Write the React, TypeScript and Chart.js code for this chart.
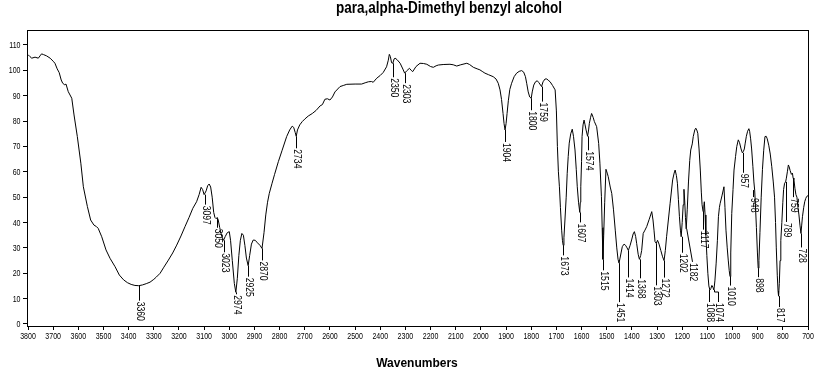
import React, { useEffect, useRef } from 'react';
import { Chart, registerables } from 'chart.js';

Chart.register(...registerables);

const TITLE = 'para,alpha-Dimethyl benzyl alcohol';
const X_TITLE = 'Wavenumbers';

const X_TICKS = [3800, 3700, 3600, 3500, 3400, 3300, 3200, 3100, 3000, 2900, 2800, 2700, 2600, 2500, 2400, 2300, 2200, 2100, 2000, 1900, 1800, 1700, 1600, 1500, 1400, 1300, 1200, 1100, 1000, 900, 800, 700];
const Y_TICKS = [0, 10, 20, 30, 40, 50, 60, 70, 80, 90, 100, 110];

const WAVENUMBERS = [
  3800, 3792, 3785, 3772, 3759, 3750, 3746, 3738, 3726, 3712, 3700, 3693, 3684, 3676, 3668, 3662, 3654, 3649, 3640, 3626,
  3617, 3604, 3590, 3580, 3564, 3551, 3538, 3528, 3521, 3507, 3490, 3474, 3454, 3437, 3420, 3405, 3390, 3375, 3360, 3345,
  3330, 3315, 3300, 3290, 3275, 3260, 3242, 3225, 3209, 3192, 3176, 3160, 3145, 3130, 3120, 3112, 3106, 3100, 3097, 3092,
  3086, 3080, 3074, 3068, 3062, 3057, 3052, 3048, 3044, 3038, 3030, 3023, 3016, 3008, 3000, 2995, 2988, 2980, 2974, 2968,
  2962, 2956, 2950, 2944, 2938, 2932, 2925, 2919, 2912, 2905, 2897, 2888, 2878, 2870, 2862, 2855, 2848, 2841, 2830, 2820,
  2805, 2790, 2772, 2760, 2750, 2744, 2738, 2734, 2729, 2720, 2710, 2700, 2686, 2670, 2655, 2639, 2630, 2620, 2610, 2600,
  2590, 2580, 2560, 2545, 2533, 2500, 2474, 2460, 2447, 2435, 2428, 2414, 2400, 2388, 2375, 2368, 2364, 2360, 2355, 2350,
  2345, 2341, 2333, 2321, 2310, 2303, 2295, 2284, 2277, 2271, 2258, 2242, 2228, 2215, 2200, 2189, 2178, 2169, 2150, 2123,
  2110, 2096, 2080, 2056, 2045, 2030, 2015, 2004, 1995, 1984, 1970, 1951, 1940, 1931, 1924, 1918, 1912, 1908, 1904, 1900,
  1896, 1891, 1885, 1878, 1868, 1858, 1848, 1838, 1830, 1823, 1818, 1812, 1806, 1800, 1796, 1790, 1783, 1776, 1770, 1763,
  1759, 1753, 1745, 1738, 1730, 1725, 1715, 1705, 1700, 1696, 1692, 1688, 1684, 1679, 1676, 1673, 1670, 1666, 1661, 1657,
  1653, 1649, 1643, 1637, 1632, 1626, 1621, 1617, 1612, 1607, 1605, 1603, 1600, 1598, 1594, 1590, 1586, 1582, 1576, 1572,
  1569, 1564, 1560, 1554, 1549, 1540, 1532, 1527, 1521, 1518, 1515, 1512, 1508, 1503, 1498, 1494, 1486, 1480, 1473, 1466,
  1460, 1455, 1451, 1447, 1443, 1438, 1431, 1425, 1419, 1414, 1407, 1400, 1395, 1390, 1385, 1381, 1375, 1370, 1365, 1361,
  1355, 1348, 1341, 1331, 1321, 1316, 1312, 1308, 1303, 1298, 1292, 1285, 1278, 1272, 1267, 1262, 1255, 1248, 1238, 1232,
  1228, 1223, 1219, 1215, 1211, 1207, 1204, 1200, 1196, 1193, 1190, 1187, 1184, 1180, 1175, 1170, 1166, 1160, 1156, 1150,
  1146, 1142, 1138, 1133, 1128, 1124, 1121, 1117, 1114, 1112, 1109, 1106, 1102, 1098, 1094, 1090, 1086, 1082, 1078, 1074,
  1070, 1065, 1060, 1056, 1052, 1049, 1042, 1034, 1030, 1026, 1021, 1017, 1013, 1010, 1007, 1003, 998, 994, 988, 983,
  977, 972, 966, 961, 957, 953, 950, 945, 940, 935, 932, 928, 924, 919, 915, 912, 909, 905, 901, 898,
  895, 891, 886, 881, 876, 871, 866, 862, 856, 850, 844, 838, 833, 829, 826, 822, 819, 817, 814, 811,
  808, 804, 800, 797, 793, 789, 786, 782, 778, 775, 771, 766, 762, 759, 756, 752, 748, 744, 740, 736,
  732, 728, 725, 722, 717, 713, 709, 705, 700,
];

const TRANSMITTANCE = [
  106.2, 105.4, 104.8, 105.2, 104.8, 106.0, 106.5, 106.2, 105.7, 104.8, 103.6, 102.8, 100.6, 99.1, 96.2, 94.9, 94.3, 94.6, 91.6, 89,
  82.4, 73.9, 63.4, 54.1, 46.3, 41, 39, 38.4, 37.7, 34.4, 29.2, 25.9, 22.6, 19.3, 17.4, 16.3, 15.6, 15.2, 15.1, 15.4,
  15.9, 16.5, 17.6, 18.5, 20, 22.4, 25.2, 28, 31.1, 34.7, 38.4, 42, 45.6, 48.2, 51, 53.9, 53, 51, 51, 52.5,
  54.5, 55.2, 54, 50, 44, 42, 41.5, 42, 41, 38, 34.5, 33, 34.5, 36, 36.4, 33, 25, 16, 12.5, 18,
  27, 33, 35.7, 35, 31, 26, 23, 27, 31.5, 33.1, 33, 32, 31, 29.8, 36, 43, 48, 51.5, 55.5, 59,
  64, 68.5, 73.9, 76.5, 78, 77.5, 75.5, 74, 76.5, 78.5, 79.8, 80.8, 82, 83, 84.2, 86, 86.5, 88.6, 88.8, 88.3,
  89.5, 91.5, 93.6, 94.1, 94.5, 94.6, 94.6, 95.1, 95.5, 95.6, 95.3, 96.9, 98, 99.2, 101.4, 104, 106.3, 105.5, 103, 102.8,
  104.5, 104.8, 104.2, 102.8, 100.5, 98.9, 99.8, 100.8, 100, 99.5, 101.5, 102.8, 102.7, 102.4, 101.5, 101.2, 101.8, 102.1, 102.3, 102.4,
  102.2, 101.7, 102.2, 102.8, 102.3, 101.2, 100.6, 100.2, 99.6, 98.9, 98.3, 97.5, 96.6, 94.9, 92.3, 88.5, 83, 79, 76.5, 79,
  83, 88, 92.5, 94.9, 97.5, 98.9, 99.6, 99.9, 99.3, 97.5, 94.9, 91.5, 89.5, 89, 91.5, 94.2, 95.5, 95.9, 95.2, 94.2,
  93.6, 95.5, 96.6, 96.6, 95.9, 95.5, 94, 92.3, 84, 70, 60, 54.1, 46, 37, 33, 31, 34, 41, 50, 59.4,
  66, 71.3, 75, 76.8, 74, 68.6, 61, 54.1, 48, 44, 48, 54.1, 64, 73.9, 78.5, 80.4, 78.5, 76.5, 74, 76.5,
  79.1, 81.5, 83, 81.5, 79.8, 77.8, 71.2, 63.4, 50.2, 38, 25.5, 35, 48, 61, 59.5, 58.1, 54, 51.5, 45, 37,
  30, 25.5, 24, 26, 28, 30.5, 31.5, 31, 30, 29, 31, 33.5, 35.5, 36.4, 34.5, 31.8, 27.5, 25.5, 27, 29,
  35.7, 37, 38.4, 41.3, 44.3, 41, 37, 32.5, 31.8, 33, 31.5, 29, 26.5, 25, 29, 34.4, 41, 47.6, 56.8, 59.5,
  60.7, 58.5, 55.5, 49, 42.3, 37, 34.4, 40, 47, 53.1, 48.5, 42, 37.5, 45, 56, 64.5, 68.6, 71, 73.9, 76.5,
  77.2, 76.5, 75.2, 69, 60.7, 52, 47, 44.3, 46.5, 48.2, 43, 35, 27, 20, 15, 13.4, 14, 15.2, 14.5, 13.4,
  17, 24, 33, 42.3, 46, 47.6, 50.5, 54.1, 46, 37, 30, 25.2, 21, 18.7, 28, 43.6, 53, 60.7, 66, 70,
  72.6, 71.5, 69, 67.5, 68, 69, 71, 74, 76, 77, 76, 73, 69, 62, 56, 52.8, 47, 38, 28, 22,
  25, 36, 50, 61, 68.5, 73.9, 74, 73, 70.5, 67, 62, 56, 50, 40, 30, 19, 13, 11, 16, 25,
  33, 40, 48, 53, 55.5, 56, 57.5, 60, 62.7, 62, 60.5, 59, 59.5, 57.5, 57, 53.5, 51, 50, 46, 43,
  39, 35.7, 39, 42.3, 46, 48.2, 49.5, 50.3, 50.6,
];

const PEAK_LABELS = ['3360', '3097', '3050', '3023', '2974', '2925', '2870', '2734', '2350', '2303', '1904', '1800', '1759', '1673', '1607', '1574', '1515', '1451', '1414', '1368', '1303', '1272', '1202', '1182', '1117', '1088', '1074', '1010', '957', '948', '898', '817', '789', '759', '728'];
const PEAK_WAVENUMBERS = [3360, 3097, 3050, 3023, 2974, 2925, 2870, 2734, 2350, 2303, 1904, 1800, 1759, 1673, 1607, 1574, 1515, 1451, 1414, 1368, 1303, 1272, 1202, 1182, 1117, 1088, 1074, 1010, 957, 948, 898, 817, 789, 759, 728];
const PEAK_VALUES = [15.1, 51, 41.5, 33, 12.5, 23, 29.8, 74, 102.8, 98.9, 76.5, 89, 93.6, 31, 44, 74, 25.5, 24, 29, 25.5, 31.8, 25, 34.4, 37.5, 44.3, 13.4, 13.4, 18.7, 67.5, 52.8, 22, 11, 56, 57.5, 35.7];

// label placement (pixel offsets, kept apart from data)
const LABEL_LAYOUT: Record<string, { gap: number; dx?: number; mode?: 'v' | 'd' | 'l' }> = {
  '3360': { gap: 15 }, '3097': { gap: 10 }, '3050': { gap: 9 }, '3023': { gap: 12 }, '2974': { gap: 2 },
  '2925': { gap: 11 }, '2870': { gap: 12 }, '2734': { gap: 12 }, '2350': { gap: 14 }, '2303': { gap: 10 },
  '1904': { gap: 12 }, '1800': { gap: 12 }, '1759': { gap: 15 }, '1673': { gap: 10 }, '1607': { gap: 10 },
  '1574': { gap: 14 }, '1515': { gap: 11 }, '1451': { gap: 39 }, '1414': { gap: 27 }, '1368': { gap: 19 },
  '1303': { gap: 42 }, '1272': { gap: 17 }, '1202': { gap: 16 }, '1182': { gap: 33, dx: 5, mode: 'd' },
  '1117': { gap: 18 }, '1088': { gap: 12, dx: -1 }, '1074': { gap: 12, dx: 4.5, mode: 'l' }, '1010': { gap: 9 },
  '957': { gap: 20 }, '948': { gap: 7, dx: 7.5 }, '898': { gap: 9 }, '817': { gap: 11 }, '789': { gap: 40 },
  '759': { gap: 19 }, '728': { gap: 14 },
};

const FONT = '"Liberation Sans", Arial, sans-serif';

function drawSquashed(ctx: any, text: string, x: number, y: number, sx: number, align: string, baseline: string) {
  ctx.save();
  ctx.translate(x, y);
  ctx.scale(sx, 1);
  ctx.textAlign = align;
  ctx.textBaseline = baseline;
  ctx.fillText(text, 0, 0);
  ctx.restore();
}

const framePlugin = {
  id: 'frame',
  afterDatasetsDraw(chart: any) {
    const { ctx, chartArea } = chart;
    const l = Math.round(chartArea.left) - 0.5;
    const t = Math.round(chartArea.top) + 0.5;
    const r = Math.round(chartArea.right) + 0.5;
    const b = Math.round(chartArea.bottom) + 0.5;
    ctx.save();
    ctx.strokeStyle = '#000';
    ctx.lineWidth = 1;
    ctx.strokeRect(l, t, r - l, b - t);
    ctx.restore();
  },
};

const tickLabelPlugin = {
  id: 'tickLabels',
  afterDraw(chart: any) {
    const { ctx, chartArea } = chart;
    const xs = chart.scales.x;
    const ys = chart.scales.y;
    ctx.save();
    ctx.fillStyle = '#000';
    ctx.font = `9px ${FONT}`;
    X_TICKS.forEach((v) => {
      drawSquashed(ctx, String(v), xs.getPixelForValue(v), chartArea.bottom + 6, 0.78, 'center', 'top');
    });
    Y_TICKS.forEach((v) => {
      drawSquashed(ctx, String(v), chartArea.left - 7.5, ys.getPixelForValue(v) + 0.5, 0.78, 'right', 'middle');
    });
    ctx.restore();
  },
};

const peakLabelPlugin = {
  id: 'peakLabels',
  afterDatasetsDraw(chart: any) {
    const { ctx } = chart;
    const xs = chart.scales.x;
    const ys = chart.scales.y;
    ctx.save();
    ctx.strokeStyle = '#000';
    ctx.fillStyle = '#000';
    ctx.lineWidth = 1;
    ctx.font = `10px ${FONT}`;
    PEAK_LABELS.forEach((text, i) => {
      const lay = LABEL_LAYOUT[text] || { gap: 8 };
      const dx = lay.dx || 0;
      const x0 = xs.getPixelForValue(PEAK_WAVENUMBERS[i]);
      const y0 = ys.getPixelForValue(PEAK_VALUES[i]);
      const top = y0 + lay.gap;
      const xl = Math.round(x0 + dx) + 0.5;
      ctx.beginPath();
      if (lay.mode === 'd') {
        ctx.moveTo(x0, y0);
        ctx.lineTo(xl, top);
      } else if (lay.mode === 'l') {
        const xa = Math.round(x0) + 0.5;
        ctx.moveTo(xa, y0);
        ctx.lineTo(xa, y0 + 2);
        ctx.lineTo(xl, y0 + 2);
        ctx.lineTo(xl, top);
      } else {
        ctx.moveTo(xl, y0);
        ctx.lineTo(xl, top);
      }
      ctx.stroke();
      ctx.save();
      ctx.translate(xl, top + 1);
      ctx.rotate(Math.PI / 2);
      ctx.scale(0.86, 1);
      ctx.textAlign = 'left';
      ctx.textBaseline = 'middle';
      ctx.fillText(text, 0, 0);
      ctx.restore();
    });
    ctx.restore();
  },
};

const textPlugin = {
  id: 'texts',
  afterDraw(chart: any) {
    const { ctx } = chart;
    ctx.save();
    ctx.fillStyle = '#000';
    ctx.font = `bold 16px ${FONT}`;
    const w = ctx.measureText(TITLE).width;
    drawSquashed(ctx, TITLE, 449, 9, w > 0 ? 226 / w : 1, 'center', 'middle');
    ctx.font = `bold 12px ${FONT}`;
    drawSquashed(ctx, X_TITLE, 417, 364, 1, 'center', 'middle');
    ctx.restore();
  },
};

export default function App() {
  const canvasRef = useRef<HTMLCanvasElement | null>(null);

  useEffect(() => {
    const canvas = canvasRef.current;
    if (!canvas) return;
    const points = WAVENUMBERS.map((x, i) => ({ x, y: TRANSMITTANCE[i] }));
    const chart = new Chart(canvas, {
      type: 'line',
      data: {
        datasets: [
          {
            data: points,
            borderColor: '#000',
            borderWidth: 1,
            pointRadius: 0,
            tension: 0,
            fill: false,
          },
        ],
      },
      options: {
        animation: false,
        responsive: false,
        devicePixelRatio: 1,
        layout: { padding: { left: 0, top: 30, right: 16, bottom: 0 } },
        plugins: {
          legend: { display: false },
          tooltip: { enabled: false },
          title: { display: false },
        },
        scales: {
          x: {
            type: 'linear',
            reverse: true,
            min: 700,
            max: 3800,
            afterFit(s: any) {
              s.height = 50;
            },
            afterBuildTicks(s: any) {
              s.ticks = X_TICKS.map((v) => ({ value: v }));
            },
            grid: { display: true, drawOnChartArea: false, drawTicks: true, tickLength: 4, color: '#000', lineWidth: 1 },
            border: { display: false },
            ticks: { display: false, autoSkip: false, maxRotation: 0, minRotation: 0 },
          },
          y: {
            type: 'linear',
            min: -0.79,
            max: 115.91,
            afterFit(s: any) {
              s.width = 28;
            },
            afterBuildTicks(s: any) {
              s.ticks = Y_TICKS.map((v) => ({ value: v }));
            },
            grid: { display: true, drawOnChartArea: false, drawTicks: true, tickLength: 5, color: '#000', lineWidth: 1 },
            border: { display: false },
            ticks: { display: false, autoSkip: false },
          },
        },
      },
      plugins: [framePlugin, peakLabelPlugin, tickLabelPlugin, textPlugin],
    } as any);
    return () => chart.destroy();
  }, []);

  return (
    <div style={{ position: 'absolute', left: 0, top: 0, width: 824, height: 376, background: '#fff' }}>
      <canvas ref={canvasRef} width={824} height={376} style={{ display: 'block', width: 824, height: 376 }} />
    </div>
  );
}
